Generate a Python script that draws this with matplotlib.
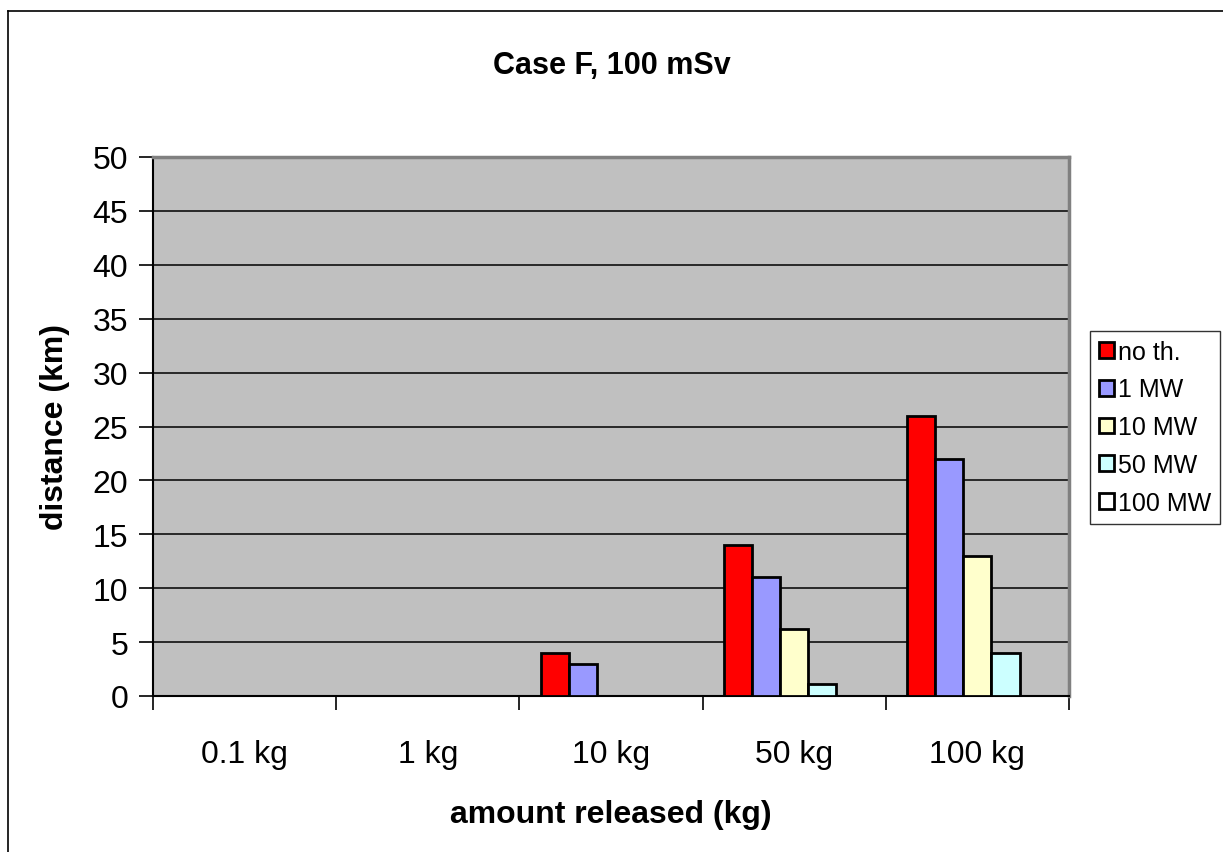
import numpy as np
import matplotlib.pyplot as plt
from matplotlib.lines import Line2D

plt.rcParams['font.family'] = ['Liberation Sans', 'DejaVu Sans']

amounts = ['0.1 kg', '1 kg', '10 kg', '50 kg', '100 kg']
series = ['no th.', '1 MW', '10 MW', '50 MW', '100 MW']
colors = ['#FF0000', '#9999FF', '#FFFFCC', '#CCFFFF', '#FFFFFF']

no_th = [0, 0, 4, 14, 26]
mw_1 = [0, 0, 3, 11, 22]
mw_10 = [0, 0, 0, 6.2, 13]
mw_50 = [0, 0, 0, 1.1, 4]
mw_100 = [0, 0, 0, 0, 0]
values = [no_th, mw_1, mw_10, mw_50, mw_100]

fig = plt.figure(figsize=(12.23, 8.53), dpi=100)
ax = fig.add_axes([153 / 1223, 1 - 697 / 853, (1069 - 153) / 1223, (697 - 158) / 853])

ax.set_facecolor('#C0C0C0')
ax.set_axisbelow(True)
ax.yaxis.grid(True, color='black', linewidth=1.1)

# excel-style clustered bars, gap width 150%
w = 1 / 6.5
centers = np.arange(len(amounts)) + 0.5
for i, (name, vals, c) in enumerate(zip(series, values, colors)):
    vals = np.array(vals, dtype=float)
    lw = np.where(vals > 0, 2.0, 0.0)
    ax.bar(centers + (i - 2) * w, vals, width=w, color=c, edgecolor='black',
           linewidth=lw, label=name, zorder=3)

ax.set_xlim(0, 5)
ax.set_ylim(0, 50)
ax.set_yticks(np.arange(0, 51, 5))
ax.tick_params(axis='y', labelsize=23, length=10, width=1.2, pad=8)

ax.set_xticks(np.arange(0, 6))
ax.set_xticklabels([])
ax.set_xticks(centers, minor=True)
ax.set_xticklabels(amounts, minor=True)
ax.tick_params(axis='x', which='major', length=10, width=1.2)
ax.tick_params(axis='x', which='minor', length=0, labelsize=23, pad=31)

for side in ['left', 'bottom']:
    ax.spines[side].set_color('black')
    ax.spines[side].set_linewidth(1.5)
for side in ['top', 'right']:
    ax.spines[side].set_color('#808080')
    ax.spines[side].set_linewidth(2.5)

ax.set_ylabel('distance (km)', fontsize=23, fontweight='bold', va='center')
ax.yaxis.set_label_coords((55 - 153) / 916, 0.5)
ax.set_xlabel('amount released (kg)', fontsize=23, fontweight='bold', va='baseline')
ax.xaxis.set_label_coords(0.5, (697 - 823) / 539)
fig.text(0.5, 1 - 74 / 853, 'Case F, 100 mSv', fontsize=22, fontweight='bold',
         ha='center', va='baseline')

leg = fig.legend(loc='upper left', bbox_to_anchor=(1090 / 1223, 1 - 332 / 853),
                 fontsize=18, frameon=True, fancybox=False, edgecolor='black',
                 handlelength=0.6, handleheight=0.6, handletextpad=0.15,
                 labelspacing=0.55, borderpad=0.35, borderaxespad=0)
leg.get_frame().set_linewidth(1.0)
for h in leg.legend_handles:
    h.set_linewidth(2.0)

# chart area border
fig.add_artist(Line2D([8 / 1223, 8 / 1223], [0, 1 - 12 / 853], color='black', linewidth=1.2))
fig.add_artist(Line2D([8 / 1223, 1], [1 - 12 / 853, 1 - 12 / 853], color='black', linewidth=1.2))

fig.savefig('out.png', dpi=100)
